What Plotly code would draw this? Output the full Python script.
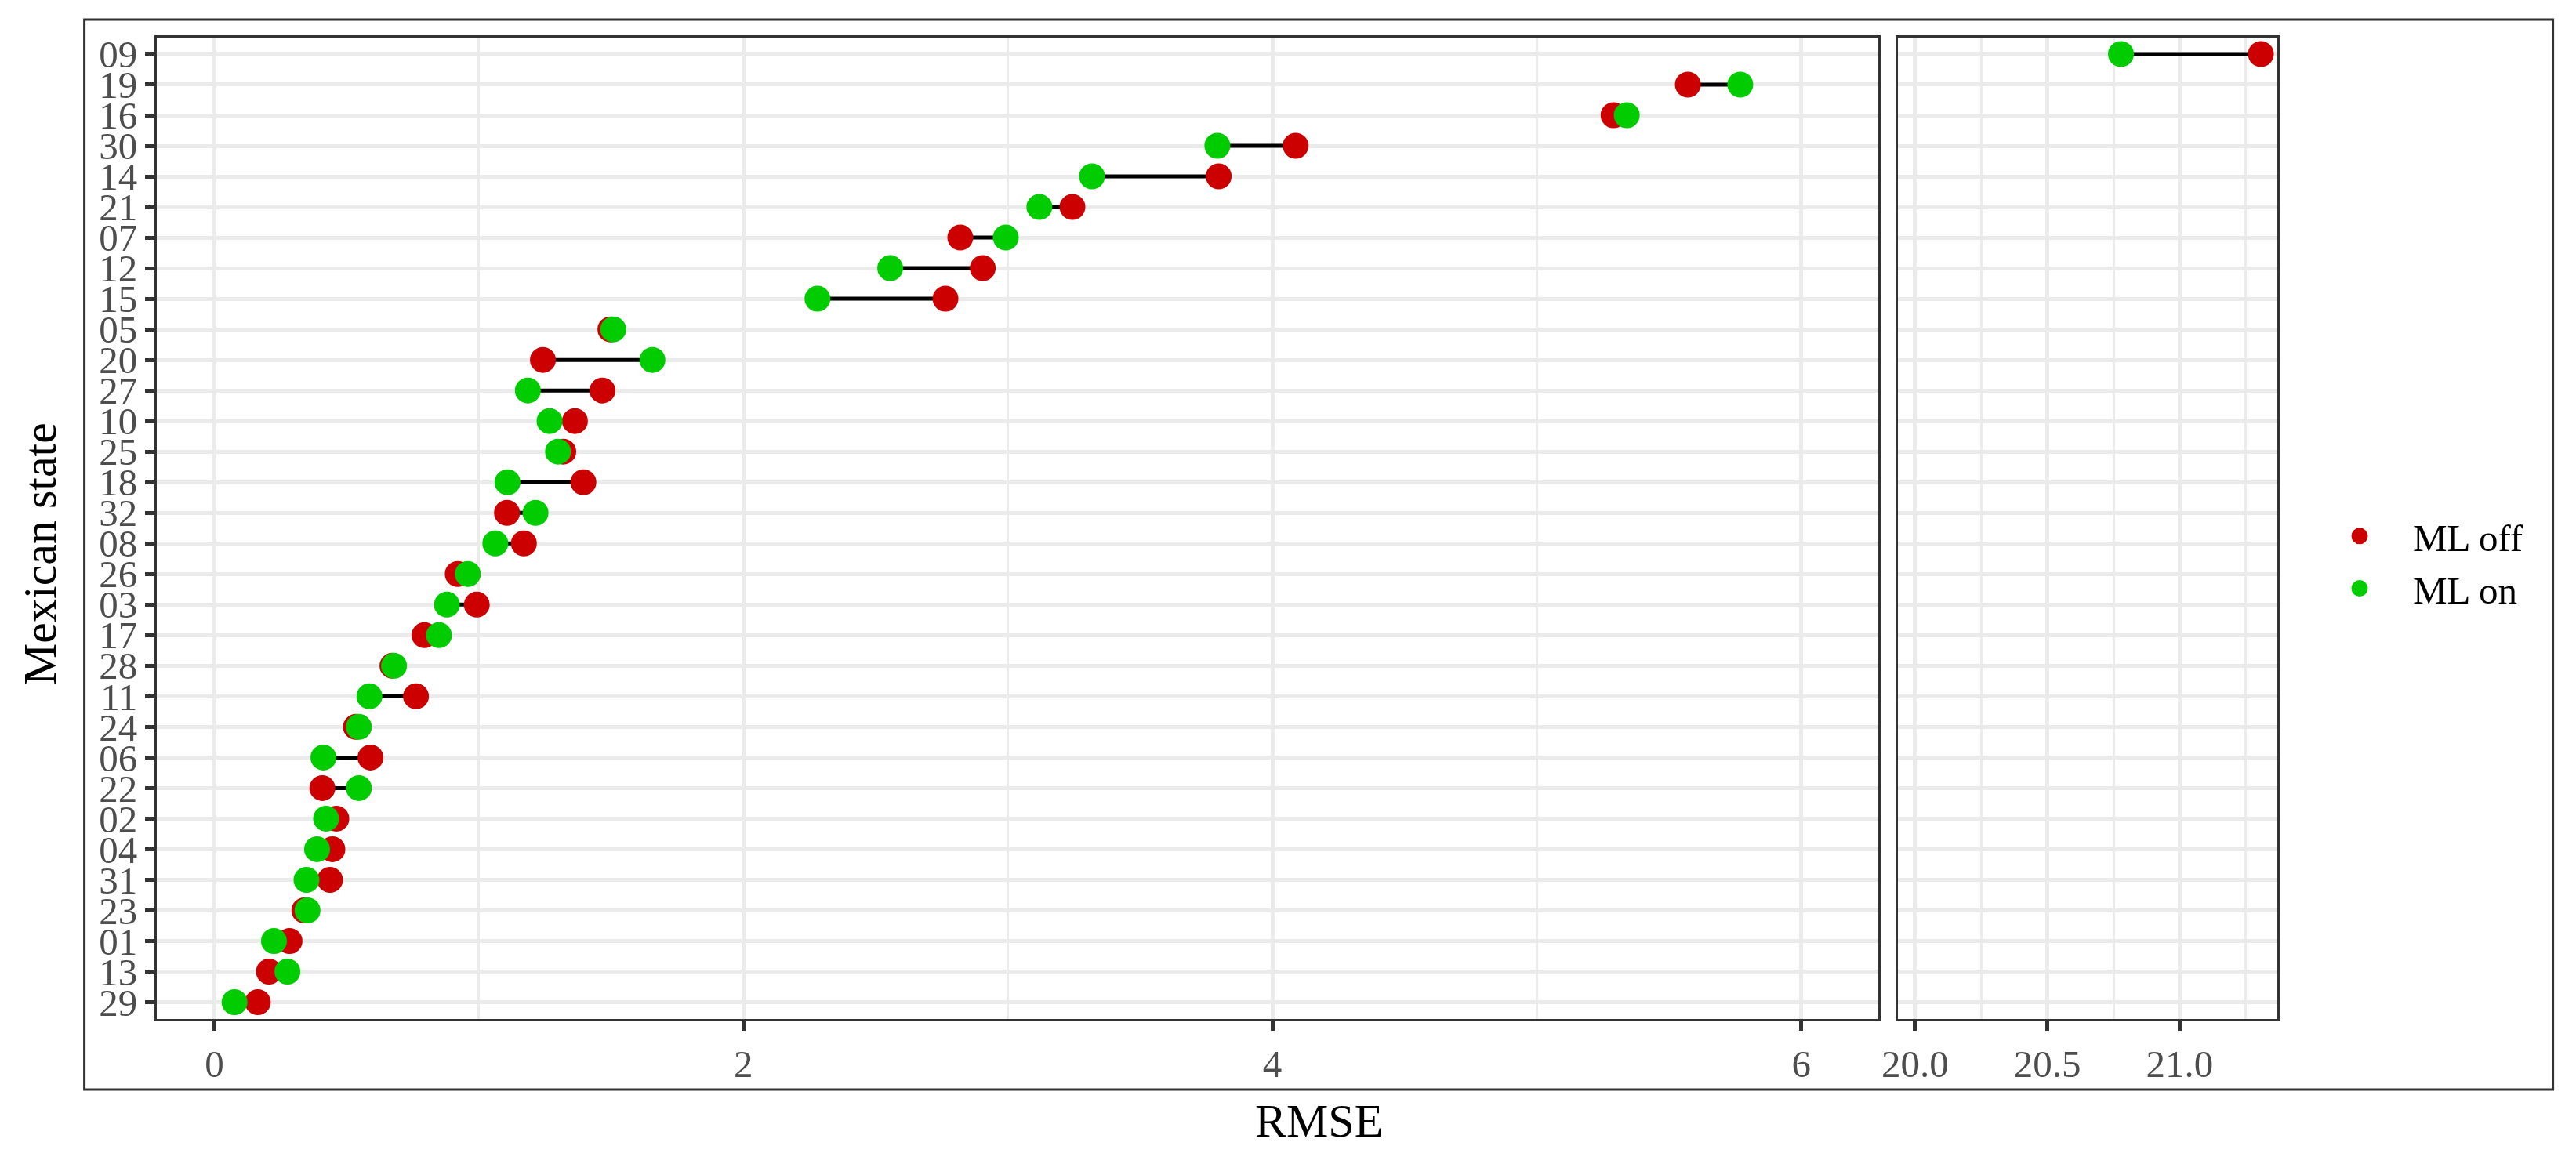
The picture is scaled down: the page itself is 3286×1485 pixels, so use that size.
import plotly.graph_objects as go

# ---- data ----
states = ["29", "13", "01", "23", "31", "04", "02", "22", "06", "24", "11", "28",
          "17", "03", "26", "08", "32", "18", "25", "10", "27", "20", "05", "15",
          "12", "07", "21", "14", "30", "16", "19", "09"]
ml_off = [0.164, 0.206, 0.284, 0.340, 0.437, 0.446, 0.461, 0.408, 0.590, 0.535, 0.762, 0.673,
          0.794, 0.992, 0.920, 1.170, 1.106, 1.395, 1.319, 1.363, 1.467, 1.242, 1.497, 2.764,
          2.905, 2.820, 3.244, 3.797, 4.088, 5.290, 5.571, 21.307]
ml_on = [0.076, 0.276, 0.225, 0.352, 0.348, 0.388, 0.422, 0.546, 0.412, 0.546, 0.586, 0.679,
         0.849, 0.879, 0.958, 1.062, 1.214, 1.108, 1.299, 1.267, 1.185, 1.656, 1.508, 2.280,
         2.555, 2.992, 3.119, 3.318, 3.792, 5.340, 5.769, 20.778]

left_ticks = [0, 2, 4, 6]
right_ticks = [20.0, 20.5, 21.0]
right_ticktext = ["20.0", "20.5", "21.0"]
BREAK = 10  # values above this go to the right-hand (broken axis) panel

W, H = 3286, 1485
OFF = 8  # page body margin in the browser
RED = "#CC0000"
GREEN = "#00CC00"
GRID = "#EBEBEB"
DARK = "#333333"
FONT = "Liberation Serif"


def px(x):
    return (x - OFF) / W


def py(y):
    return 1 - (y - OFF) / H


def split(panel_right):
    return [i for i in range(len(states)) if (max(ml_off[i], ml_on[i]) > BREAK) == panel_right]


fig = go.Figure()

for right in (False, True):
    idx = split(right)
    xa, ya = ("x2", "y2") if right else ("x", "y")
    sx, sy = [], []
    for i in idx:
        sx += [ml_off[i], ml_on[i], None]
        sy += [states[i], states[i], None]
    fig.add_trace(go.Scatter(x=sx, y=sy, mode="lines", line=dict(color="black", width=5),
                             showlegend=False, hoverinfo="skip", xaxis=xa, yaxis=ya))

for name, vals, col in (("ML off", ml_off, RED), ("ML on", ml_on, GREEN)):
    for right in (False, True):
        idx = split(right)
        xa, ya = ("x2", "y2") if right else ("x", "y")
        fig.add_trace(go.Scatter(
            x=[vals[i] for i in idx], y=[states[i] for i in idx], mode="markers",
            marker=dict(color=col, size=28, line=dict(color=col, width=5)),
            name=name, legendgroup=name, showlegend=not right,
            xaxis=xa, yaxis=ya, cliponaxis=False))

tickfont = dict(family=FONT, size=49, color="#4D4D4D")
common_x = dict(showline=True, mirror=True, linecolor=DARK, linewidth=2.7,
                ticks="outside", ticklen=12, tickwidth=4.7, tickcolor=DARK,
                showgrid=True, gridcolor=GRID, gridwidth=4.7, zeroline=False,
                tickfont=tickfont, automargin=False, tickmode="array")
ydom = [py(1300), py(47.5)]
yrange = [-0.55, len(states) - 1 + 0.55]
common_y = dict(type="category", categoryorder="array", categoryarray=states,
                tickmode="array", tickvals=states, ticktext=states,
                range=yrange, domain=ydom, showline=True, mirror=True, linecolor=DARK,
                linewidth=2.7, showgrid=True, gridcolor=GRID, gridwidth=4.7,
                zeroline=False, tickfont=tickfont, automargin=False)

fig.update_layout(
    template="none",
    width=W, height=H, margin=dict(l=0, r=0, t=0, b=0, pad=0, autoexpand=False),
    paper_bgcolor="white", plot_bgcolor="white",
    font=dict(family=FONT, color="black"),
    xaxis=dict(domain=[px(200), px(2396)], range=[-0.218, 6.291], tickvals=left_ticks,
               minor=dict(dtick=1, tick0=0, showgrid=True, gridcolor=GRID, gridwidth=2.7),
               anchor="y", **common_x),
    xaxis2=dict(domain=[px(2421), px(2905)], range=[19.935, 21.369], tickvals=right_ticks,
                ticktext=right_ticktext,
                minor=dict(dtick=0.25, tick0=20, showgrid=True, gridcolor=GRID, gridwidth=2.7),
                anchor="y2", **common_x),
    yaxis=dict(anchor="x", ticks="outside", ticklen=12, tickwidth=4.7, tickcolor=DARK,
               **common_y),
    yaxis2=dict(anchor="x2", ticks="", showticklabels=False, **common_y),
    legend=dict(x=px(2942), xanchor="left", y=py(717.5), yanchor="middle",
                font=dict(family=FONT, size=49, color="black"),
                bgcolor="rgba(0,0,0,0)", itemwidth=126, tracegroupgap=0),
    shapes=[dict(type="rect", xref="paper", yref="paper",
                 x0=px(107.6), x1=px(3256.6), y0=py(1390), y1=py(25),
                 line=dict(color=DARK, width=3), fillcolor="rgba(0,0,0,0)", layer="below")],
    annotations=[
        dict(text="Mexican state", xref="paper", yref="paper", x=px(51), y=py(707),
             textangle=-90, showarrow=False, xanchor="center", yanchor="middle",
             font=dict(family=FONT, size=60, color="black")),
        dict(text="RMSE", xref="paper", yref="paper", x=px(1682), y=py(1430),
             showarrow=False, xanchor="center", yanchor="middle",
             font=dict(family=FONT, size=60, color="black")),
    ],
)

fig.write_html("out.html")
